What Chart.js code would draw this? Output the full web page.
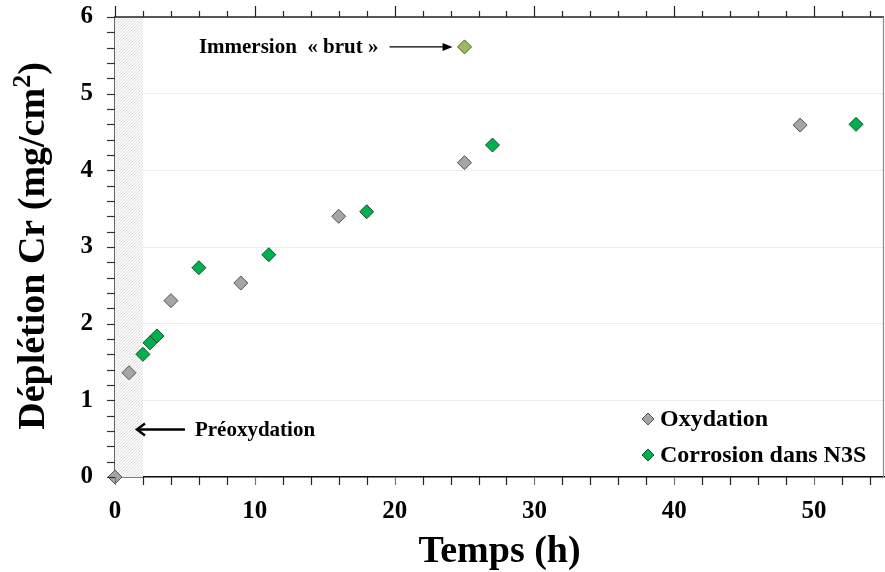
<!DOCTYPE html>
<html>
<head>
<meta charset="utf-8">
<script src="https://cdn.jsdelivr.net/npm/chart.js@4/dist/chart.umd.min.js"></script>
<style>
  html, body { margin: 0; padding: 0; background: #fff; }
  #wrap { width: 885px; height: 572px; }
</style>
</head>
<body>
<div id="wrap"><canvas id="chart"></canvas></div>
<script>
// data
const tempsOx = [0, 1, 4, 9, 16, 25, 49];
const deplOx = [0, 1.36, 2.30, 2.53, 3.40, 4.10, 4.59];
const tempsCorr = [2, 2.5, 3, 6, 11, 18, 27, 53];
const deplCorr = [1.60, 1.75, 1.84, 2.73, 2.90, 3.46, 4.33, 4.60];
const tempsBrut = [25];
const deplBrut = [5.61];
const seriesLabels = ['Oxydation', 'Corrosion dans N3S', 'Immersion  « brut »'];
const xTicks = [0, 10, 20, 30, 40, 50];
const yTicks = [0, 1, 2, 3, 4, 5, 6];
const preoxEnd = 2; // hatched zone 0..2 h

const FONT = '"Liberation Serif", "Times New Roman", serif';

function toPoints(xs, ys) {
    return xs.map((x, i) => ({ x: x, y: ys[i] }));
}

// hatched pre-oxidation zone, drawn under the points
const hatchPlugin = {
    id: 'hatch',
    beforeDatasetsDraw(chart) {
        const { ctx, chartArea, scales } = chart;
        const x0 = scales.x.getPixelForValue(0);
        const x1 = scales.x.getPixelForValue(preoxEnd);
        const h = chartArea.bottom - chartArea.top;
        ctx.save();
        ctx.beginPath();
        ctx.rect(x0, chartArea.top, x1 - x0, h);
        ctx.clip();
        ctx.fillStyle = '#fafafa';
        ctx.fillRect(x0, chartArea.top, x1 - x0, h);
        ctx.strokeStyle = '#d2d2d2';
        ctx.lineWidth = 0.7;
        for (let s = x0 - h; s < x1 + 4; s += 3) {
            ctx.beginPath();
            ctx.moveTo(s, chartArea.bottom);
            ctx.lineTo(s + h, chartArea.top);
            ctx.stroke();
        }
        ctx.restore();
    }
};

// frame, minor ticks, titles, legend and annotations
const decoPlugin = {
    id: 'deco',
    afterDraw(chart) {
        const { ctx, chartArea, scales } = chart;
        const xs = scales.x, ys = scales.y;
        const L = chartArea.left, R = chartArea.right, T = chartArea.top, B = chartArea.bottom;
        ctx.save();

        // frame
        ctx.lineWidth = 1.5;
        ctx.strokeStyle = '#222';
        ctx.beginPath(); ctx.moveTo(L, T); ctx.lineTo(R, T); ctx.stroke();
        ctx.strokeStyle = '#8a8a8a';
        ctx.lineWidth = 1.2;
        ctx.beginPath(); ctx.moveTo(R - 0.5, T); ctx.lineTo(R - 0.5, B); ctx.stroke();

        // x ticks bottom and top
        ctx.lineWidth = 1.2;
        for (let v = 0; v <= 54; v += 2) {
            const px = Math.round(xs.getPixelForValue(v)) + 0.5;
            const major = v % 10 === 0;
            ctx.strokeStyle = major ? '#777' : '#222';
            ctx.beginPath(); ctx.moveTo(px, B); ctx.lineTo(px, B + 8); ctx.stroke();
            ctx.strokeStyle = '#222';
            ctx.beginPath(); ctx.moveTo(px, T); ctx.lineTo(px, T - (major ? 11 : 6)); ctx.stroke();
        }
        // y ticks left
        ctx.strokeStyle = '#333';
        for (let i = 0; i <= 30; i++) {
            const py = Math.round(ys.getPixelForValue(i * 0.2)) + 0.5;
            ctx.beginPath(); ctx.moveTo(L - 8, py); ctx.lineTo(L, py); ctx.stroke();
        }

        // axis titles
        ctx.fillStyle = '#000';
        ctx.font = 'bold 38px ' + FONT;
        ctx.textAlign = 'center';
        ctx.textBaseline = 'alphabetic';
        ctx.fillText('Temps (h)', (L + R) / 2, 562);

        // y title with a real superscript 2
        const partA = 'Déplétion Cr (mg/cm', sup = '2', partB = ')';
        const big = 'bold 38px ' + FONT, small = 'bold 26px ' + FONT;
        ctx.font = big;
        const wA = ctx.measureText(partA).width, wB = ctx.measureText(partB).width;
        ctx.font = small;
        const wS = ctx.measureText(sup).width;
        const total = wA + wS + wB;
        ctx.translate(44, (T + B) / 2 - 1);
        ctx.rotate(-Math.PI / 2);
        ctx.textAlign = 'left';
        let tx = -total / 2;
        ctx.font = big; ctx.fillText(partA, tx, 0); tx += wA;
        ctx.font = small; ctx.fillText(sup, tx, -14); tx += wS;
        ctx.font = big; ctx.fillText(partB, tx, 0);
        ctx.setTransform(1, 0, 0, 1, 0, 0);

        // legend inside bottom right
        const items = [chart.data.datasets[0], chart.data.datasets[1]];
        ctx.font = 'bold 24px ' + FONT;
        ctx.textBaseline = 'middle';
        ctx.textAlign = 'left';
        items.forEach((ds, i) => {
            const cy = 419 + i * 36;
            const cx = 648;
            const r = 6;
            ctx.beginPath();
            ctx.moveTo(cx, cy - r); ctx.lineTo(cx + r, cy); ctx.lineTo(cx, cy + r); ctx.lineTo(cx - r, cy);
            ctx.closePath();
            ctx.fillStyle = ds.backgroundColor;
            ctx.fill();
            ctx.strokeStyle = ds.borderColor;
            ctx.lineWidth = 1;
            ctx.stroke();
            ctx.fillStyle = '#000';
            ctx.fillText(ds.label, cx + 12, cy + 1);
        });

        // "Immersion « brut »" annotation
        const by = ys.getPixelForValue(deplBrut[0]);
        const bx = xs.getPixelForValue(tempsBrut[0]);
        ctx.font = 'bold 21px ' + FONT;
        ctx.fillStyle = '#000';
        ctx.textAlign = 'right';
        ctx.fillText(seriesLabels[2], bx - 86, by + 1);
        ctx.strokeStyle = '#000';
        ctx.lineWidth = 1.2;
        ctx.beginPath(); ctx.moveTo(bx - 75, by); ctx.lineTo(bx - 20, by); ctx.stroke();
        ctx.beginPath();
        ctx.moveTo(bx - 12, by); ctx.lineTo(bx - 22, by - 4); ctx.lineTo(bx - 22, by + 4);
        ctx.closePath(); ctx.fill();

        // "Préoxydation" annotation
        const py = ys.getPixelForValue(0.62);
        const ax = xs.getPixelForValue(preoxEnd);
        ctx.textAlign = 'left';
        ctx.fillText('Préoxydation', ax + 52, py + 1);
        ctx.lineWidth = 2.4;
        ctx.beginPath(); ctx.moveTo(ax + 42, py); ctx.lineTo(ax - 6, py); ctx.stroke();
        ctx.beginPath();
        ctx.moveTo(ax + 2, py - 6); ctx.lineTo(ax - 6, py); ctx.lineTo(ax + 2, py + 6);
        ctx.stroke();

        ctx.restore();
    }
};

new Chart(document.getElementById('chart'), {
    type: 'scatter',
    data: {
        datasets: [
            {
                label: seriesLabels[0],
                data: toPoints(tempsOx, deplOx),
                backgroundColor: '#a5a5a5',
                borderColor: '#555',
                pointStyle: 'rectRot',
                pointRadius: 7,
                pointBorderWidth: 1,
                clip: false
            },
            {
                label: seriesLabels[1],
                data: toPoints(tempsCorr, deplCorr),
                backgroundColor: '#00b050',
                borderColor: '#1e4d2b',
                pointStyle: 'rectRot',
                pointRadius: 7,
                pointBorderWidth: 1,
                clip: false
            },
            {
                label: seriesLabels[2],
                data: toPoints(tempsBrut, deplBrut),
                backgroundColor: '#9bbb59',
                borderColor: '#4f6028',
                pointStyle: 'rectRot',
                pointRadius: 7,
                pointBorderWidth: 1,
                clip: false
            }
        ]
    },
    options: {
        responsive: true,
        maintainAspectRatio: false,
        animation: false,
        layout: { autoPadding: false, padding: { top: 17, right: 1, left: 0, bottom: 0 } },
        plugins: {
            legend: { display: false },
            tooltip: { enabled: false }
        },
        scales: {
            x: {
                type: 'linear',
                min: 0,
                max: 55,
                afterBuildTicks: s => { s.ticks = xTicks.map(v => ({ value: v })); },
                afterFit: s => { s.height = 95; s.paddingLeft = 0; s.paddingRight = 0; },
                grid: { drawOnChartArea: false, drawTicks: false },
                border: { display: true, color: '#111', width: 1.5 },
                ticks: {
                    padding: 20,
                    color: '#000',
                    font: { family: FONT, size: 25, weight: 'bold' }
                }
            },
            y: {
                min: 0,
                max: 6,
                afterBuildTicks: s => { s.ticks = yTicks.map(v => ({ value: v })); },
                afterFit: s => { s.width = 115; s.paddingTop = 0; s.paddingBottom = 0; },
                grid: { color: '#ececec', lineWidth: 1, drawTicks: false },
                border: { display: true, color: '#666', width: 1.5 },
                ticks: {
                    padding: 22,
                    color: '#000',
                    font: { family: FONT, size: 25, weight: 'bold' }
                }
            }
        }
    },
    plugins: [hatchPlugin, decoPlugin]
});
</script>
</body>
</html>
